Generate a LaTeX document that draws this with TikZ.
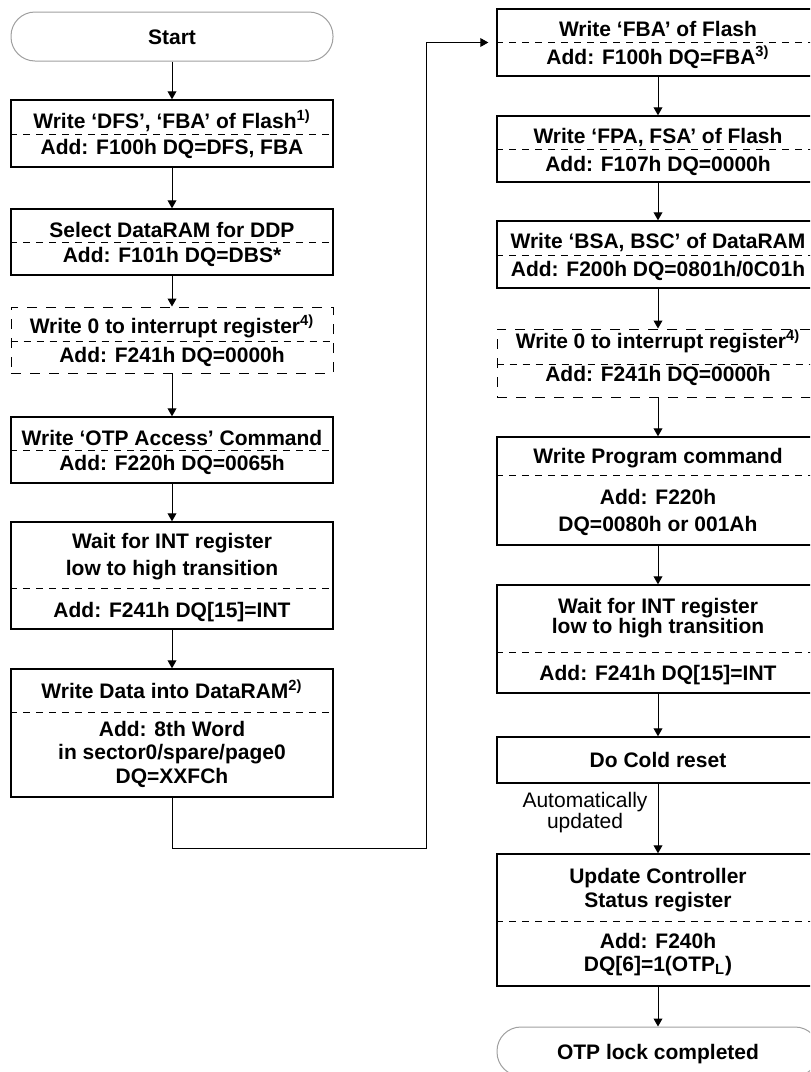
\documentclass[tikz,border=0pt]{standalone}
\usepackage{fontspec}
\setmainfont{Liberation Sans}
\usetikzlibrary{arrows.meta,calc}
\definecolor{edge}{HTML}{A0A0A0}
\tikzset{
  box/.style={draw, line width=0.7pt, minimum width=161pt, inner sep=0pt},
  dbox/.style={box, line width=0.5pt, dash pattern=on 5pt off 4.5pt},
  single/.style={font=\bfseries\fontsize{10.5}{12}\selectfont, text height=7.5pt, text depth=0pt},
  term/.style={draw=edge, line width=0.5pt, rounded corners=12pt, minimum width=161pt, minimum height=24.5pt, inner sep=0pt, single},
  divider/.style={line width=0.4pt, dash pattern=on 3.5pt off 3pt},
  txt/.style={font=\bfseries\fontsize{10.5}{12}\selectfont, inner sep=0pt, anchor=base, align=center},
  lsp/.style={font=\bfseries\fontsize{10.5}{#1}\selectfont},
  note/.style={font=\fontsize{10.5}{10.5}\selectfont, inner sep=0pt, anchor=base, align=center},
  arr/.style={-{Triangle[length=4pt, width=4.4pt]}, line width=0.5pt}
}
\begin{document}
\begin{tikzpicture}[x=0.5pt, y=-0.5pt]
\useasboundingbox (0,0) rectangle (810,1072);
\fill[white] (0,0) rectangle (810,1072);
\clip (0,0) rectangle (810,1072);

% left column (multi-line texts sit on their last baseline)
\node[term] (start) at (172,36.5) {Start};
\node[box, minimum height=33.5pt] (dfs) at (172,133.5) {};
\node[txt] (dfsT) at (172,128) {Write ‘DFS’, ‘FBA’ of Flash\textsuperscript{1)}};
\node[txt] (dfsA) at (172,154) {Add: F100h DQ=DFS, FBA};
\node[box, minimum height=33pt] (ram) at (172,242) {};
\node[txt] (ramT) at (172,237) {Select DataRAM for DDP};
\node[txt] (ramA) at (172,262) {Add: F101h DQ=DBS*};
\node[dbox, minimum height=33pt] (irqA) at (172,340) {};
\node[txt] (irqAT) at (172,333) {Write 0 to interrupt register\textsuperscript{4)}};
\node[txt] (irqAA) at (172,362) {Add: F241h DQ=0000h};
\node[box, minimum height=33pt] (otp) at (172,450) {};
\node[txt] (otpT) at (172,445) {Write ‘OTP Access’ Command};
\node[txt] (otpA) at (172,470) {Add: F220h DQ=0065h};
\node[box, minimum height=53.5pt] (waitA) at (172,575.5) {};
\node[txt, lsp=13.5pt] (waitAT) at (172,575) {Wait for INT register\\low to high transition};
\node[txt] (waitAA) at (172,617) {Add: F241h DQ[15]=INT};
\node[box, minimum height=64pt] (data) at (172,733) {};
\node[txt] (dataT) at (172,698) {Write Data into DataRAM\textsuperscript{2)}};
\node[txt, lsp=11.75pt] (dataA) at (172,783) {Add: 8th Word\\in sector0/spare/page0\\DQ=XXFCh};

% right column
\node[box, minimum height=33.5pt] (fba) at (658,42.5) {};
\node[txt] (fbaT) at (658,36) {Write ‘FBA’ of Flash};
\node[txt] (fbaA) at (658,64) {Add: F100h DQ=FBA\textsuperscript{3)}};
\node[box, minimum height=33pt] (fpa) at (658,149) {};
\node[txt] (fpaT) at (658,143) {Write ‘FPA, FSA’ of Flash};
\node[txt] (fpaA) at (658,171) {Add: F107h DQ=0000h};
\node[box, minimum height=33.5pt] (bsa) at (658,254.5) {};
\node[txt] (bsaT) at (658,248) {Write ‘BSA, BSC’ of DataRAM};
\node[txt] (bsaA) at (658,276) {Add: F200h DQ=0801h/0C01h};
\node[dbox, minimum height=34pt] (irqB) at (658,363) {};
\node[txt] (irqBT) at (658,348) {Write 0 to interrupt register\textsuperscript{4)}};
\node[txt] (irqBA) at (658,381) {Add: F241h DQ=0000h};
\node[box, minimum height=54pt] (prog) at (658,491) {};
\node[txt] (progT) at (658,463) {Write Program command};
\node[txt, lsp=13.5pt] (progA) at (658,531) {Add: F220h\\DQ=0080h or 001Ah};
\node[box, minimum height=54pt] (waitB) at (658,639) {};
\node[txt, lsp=10pt] (waitBT) at (658,633) {Wait for INT register\\low to high transition};
\node[txt] (waitBA) at (658,680) {Add: F241h DQ[15]=INT};
\node[box, single, minimum height=23pt] (reset) at (658,760) {Do Cold reset};
\node[note] (auto) at (585,828) {Automatically\\updated};
\node[box, minimum height=66pt] (status) at (658,920) {};
\node[txt, lsp=12pt] (statusT) at (658,907) {Update Controller\\Status register};
\node[txt, lsp=11.5pt] (statusA) at (658,971) {Add: F240h\\DQ[6]=1(OTP\textsubscript{L})};
\node[term] (done) at (658,1051.5) {OTP lock completed};

% dashed dividers
\foreach \n/\d in {dfs/35, ram/34, irqA/35, otp/34, waitA/67, data/44, fba/34, fpa/34, bsa/35, irqB/36, prog/39, waitB/68, status/68}
  \draw[divider] ($(\n.north west)+(0,\d)$) -- ($(\n.north east)+(0,\d)$);

% flow
\foreach \a/\b in {start/dfs, dfs/ram, ram/irqA, irqA/otp, otp/waitA, waitA/data,
                   fba/fpa, fpa/bsa, bsa/irqB, irqB/prog, prog/waitB, waitB/reset, reset/status, status/done}
  \draw[arr] (\a) -- (\b);
\coordinate (bend) at (426,848);
\draw[arr, shorten >=4pt] (data) |- (bend) |- (fba);
\end{tikzpicture}
\end{document}
